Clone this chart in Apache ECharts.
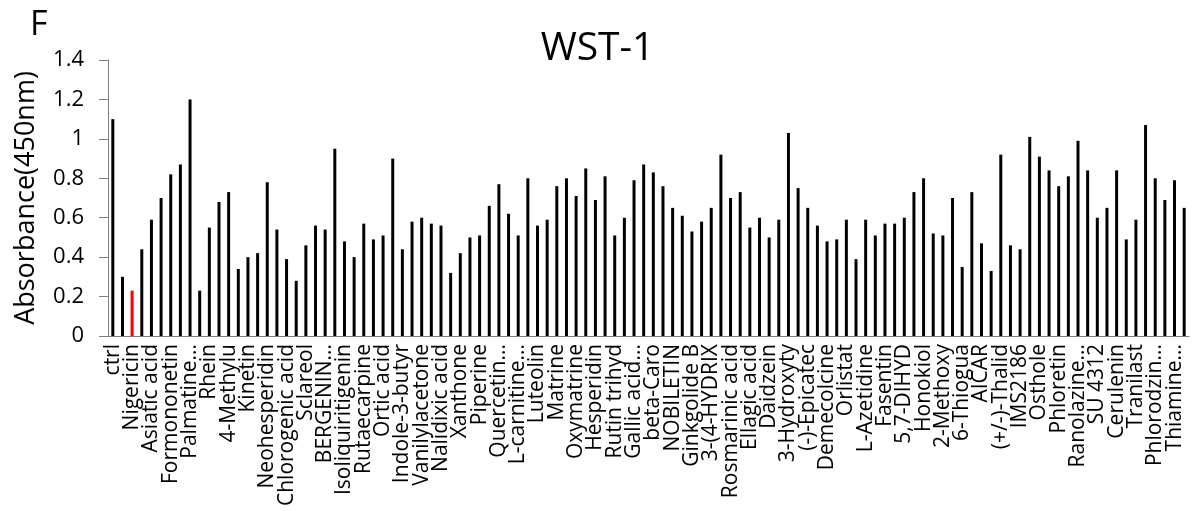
<!DOCTYPE html>
<html>
<head>
<meta charset="utf-8">
<script src="https://cdn.jsdelivr.net/npm/echarts@6/dist/echarts.min.js"></script>
<style>
html,body{margin:0;padding:0;background:#fff;}
#chart{width:1195px;height:511px;}
</style>
</head>
<body>
<div id="chart"></div>
<script>
// Category names (only every other bar is labelled in the reference)
const categories = [
  "ctrl","", "Nigericin","", "Asiatic acid","", "Formononetin","", "Palmatine...","",
  "Rhein","", "4-Methylu","", "Kinetin","", "Neohesperidin","", "Chlorogenic acid","",
  "Sclareol","", "BERGENIN...","", "Isoliquiritigenin","", "Rutaecarpine","", "Ortic acid","",
  "Indole-3-butyr","", "Vanilylacetone","", "Nalidixic acid","", "Xanthone","", "Piperine","",
  "Quercetin...","", "L-carnitine...","", "Luteolin","", "Matrine","", "Oxymatrine","",
  "Hesperidin","", "Rutin trihyd","", "Gallic acid...","", "beta-Caro","", "NOBILETIN","",
  "Ginkgolide B","", "3-(4-HYDRIX","", "Rosmarinic acid","", "Ellagic acid","", "Daidzein","",
  "3-Hydroxyty","", "(-)-Epicatec","", "Demecolcine","", "Orlistat","", "L-Azetidine","",
  "Fasentin","", "5,7-DIHYD","", "Honokiol","", "2-Methoxy","", "6-Thiogua","",
  "AICAR","", "(+/-)-Thalid","", "IMS2186","", "Osthole","", "Phloretin","",
  "Ranolazine...","", "SU 4312","", "Cerulenin","", "Tranilast","", "Phlorodzin...","",
  "Thiamine...",""
];

// Absorbance values (450nm), one per bar
const values = [
  1.10,0.30, 0.23,0.44, 0.59,0.70, 0.82,0.87, 1.20,0.23,
  0.55,0.68, 0.73,0.34, 0.40,0.42, 0.78,0.54, 0.39,0.28,
  0.46,0.56, 0.54,0.95, 0.48,0.40, 0.57,0.49, 0.51,0.90,
  0.44,0.58, 0.60,0.57, 0.56,0.32, 0.42,0.50, 0.51,0.66,
  0.77,0.62, 0.51,0.80, 0.56,0.59, 0.76,0.80, 0.71,0.85,
  0.69,0.81, 0.51,0.60, 0.79,0.87, 0.83,0.76, 0.65,0.61,
  0.53,0.58, 0.65,0.92, 0.70,0.73, 0.55,0.60, 0.50,0.59,
  1.03,0.75, 0.65,0.56, 0.48,0.49, 0.59,0.39, 0.59,0.51,
  0.57,0.57, 0.60,0.73, 0.80,0.52, 0.51,0.70, 0.35,0.73,
  0.47,0.33, 0.92,0.46, 0.44,1.01, 0.91,0.84, 0.76,0.81,
  0.99,0.84, 0.60,0.65, 0.84,0.49, 0.59,1.07, 0.80,0.69,
  0.79,0.65
];

const highlighted = ["Nigericin"];
const yTicks = [0, 0.2, 0.4, 0.6, 0.8, 1, 1.2, 1.4];

const FONT = "Open Sans";
const chart = echarts.init(document.getElementById('chart'), null, {renderer: 'canvas'});

const seriesData = values.map((v, i) => ({
  value: v,
  itemStyle: { color: highlighted.includes(categories[i]) ? '#ff0000' : '#000000' }
}));

chart.setOption({
  animation: false,
  backgroundColor: '#ffffff',
  textStyle: { fontFamily: FONT },
  title: {
    text: 'WST-1',
    left: 'center',
    top: 24,
    textStyle: { fontFamily: FONT, fontSize: 39, fontWeight: 'normal', color: '#000' }
  },
  graphic: [{
    type: 'text',
    left: 30,
    top: 8,
    style: { text: 'F', fontFamily: FONT, fontSize: 34, fill: '#000' }
  }],
  grid: { left: 108, right: 6, top: 60, bottom: 175 },
  xAxis: {
    type: 'category',
    data: categories,
    axisLine: { lineStyle: { color: '#7f7f7f', width: 1 } },
    axisTick: { show: false },
    axisLabel: {
      interval: 0,
      rotate: 90,
      fontFamily: FONT,
      fontSize: 21,
      color: '#000',
      margin: 8,
      padding: [6, 0, 0, 0]
    }
  },
  yAxis: {
    type: 'value',
    min: 0,
    max: 1.4,
    interval: 0.2,
    name: 'Absorbance(450nm)',
    nameLocation: 'middle',
    nameGap: 68,
    nameTextStyle: { fontFamily: FONT, fontSize: 27, color: '#000' },
    axisLine: { show: true, lineStyle: { color: '#7f7f7f', width: 1 } },
    axisTick: { show: true, length: 9, lineStyle: { color: '#7f7f7f' } },
    splitLine: { show: false },
    axisLabel: {
      fontFamily: FONT,
      fontSize: 22,
      color: '#000',
      margin: 24,
      formatter: v => {
        const t = yTicks.find(x => Math.abs(x - v) < 1e-6);
        return String(t !== undefined ? t : +v.toFixed(1));
      }
    }
  },
  series: [{
    type: 'bar',
    data: seriesData,
    barWidth: 3
  }]
});
</script>
</body>
</html>
